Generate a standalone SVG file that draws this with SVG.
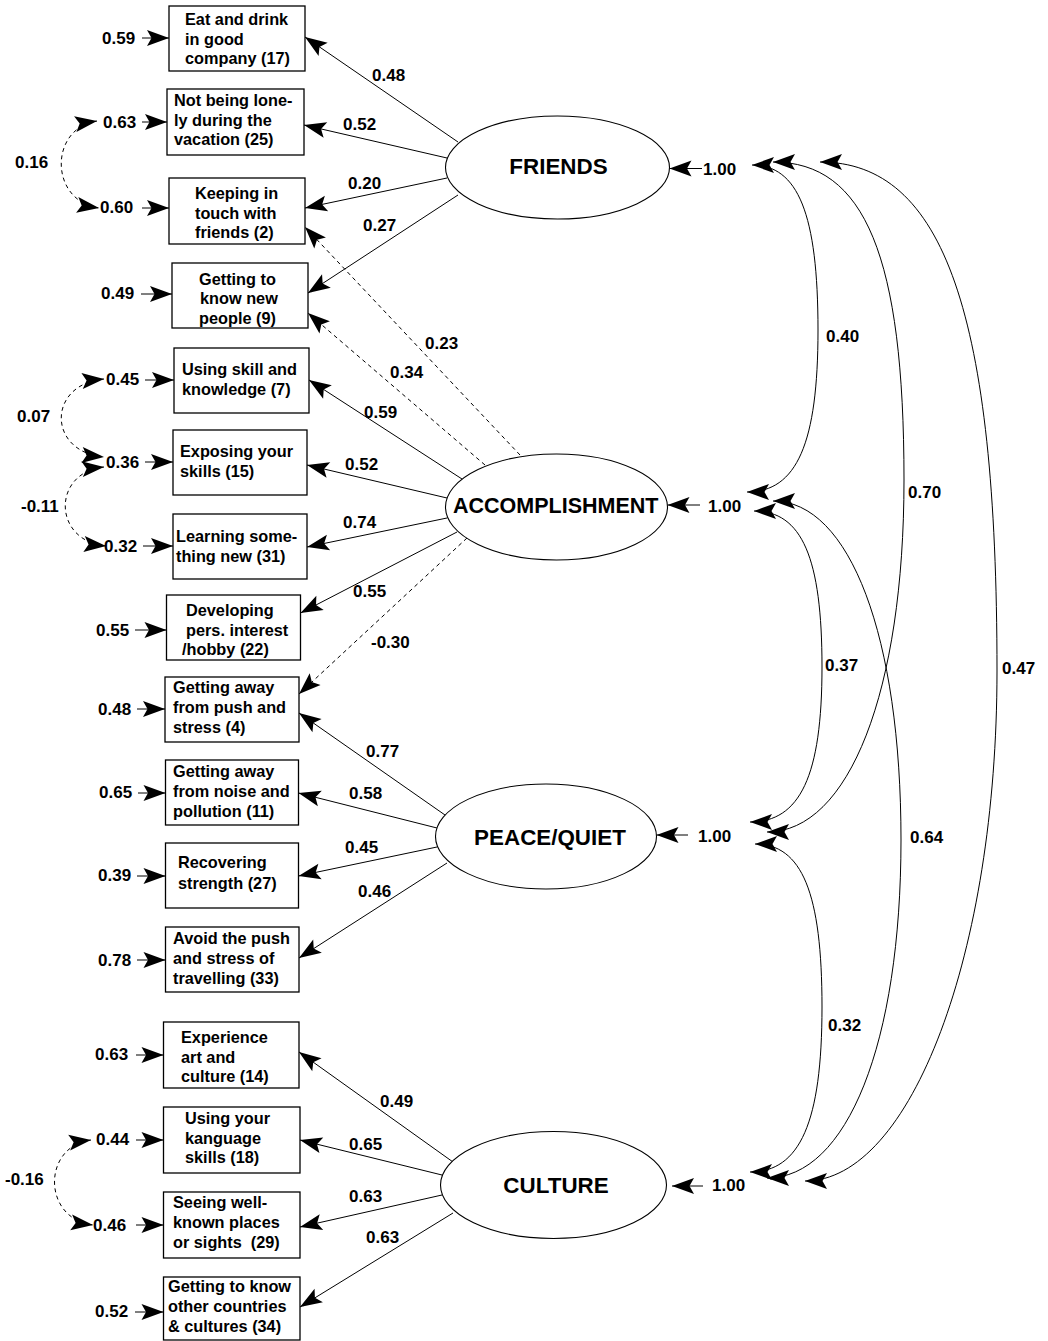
<svg xmlns="http://www.w3.org/2000/svg" width="1048" height="1341" viewBox="0 0 1048 1341">
<defs>
<marker id="ah" viewBox="-23 -9 24 18" refX="0" refY="0" markerWidth="24" markerHeight="18" markerUnits="userSpaceOnUse" orient="auto-start-reverse">
<path d="M0,0 L-22,-8 L-17.5,0 L-22,8 Z" fill="#000" stroke="none"/>
</marker>
</defs>
<style>
.box{fill:#fff;stroke:#000;stroke-width:1.3}
.lat{fill:#fff;stroke:#000;stroke-width:1.1}
.ln{fill:none;stroke:#000;stroke-width:1;marker-end:url(#ah)}
.dl{fill:none;stroke:#000;stroke-width:1;stroke-dasharray:4 3.5;marker-end:url(#ah)}
.cov{fill:none;stroke:#000;stroke-width:1;marker-start:url(#ah);marker-end:url(#ah)}
.dcov{fill:none;stroke:#000;stroke-width:1;stroke-dasharray:4 3.5;marker-start:url(#ah);marker-end:url(#ah)}
text{font-family:"Liberation Sans",Arial,sans-serif;font-weight:bold;fill:#000}
.t{font-size:16.3px}
.n{font-size:17px}
.L{font-size:22.4px;text-anchor:middle}
</style>
<rect width="1048" height="1341" fill="#fff"/>

<g id="connectors">
<!-- FRIENDS loadings -->
<path class="ln" d="M458,142 L305,37"/>
<path class="ln" d="M447,158 L304,125"/>
<path class="ln" d="M447,178 L305,208"/>
<path class="ln" d="M458,195 L308,293"/>
<!-- cross loadings (dashed) -->
<path class="dl" d="M520,455 L305,227"/>
<path class="dl" d="M485,465 L308,313"/>
<path class="dl" d="M467,538 L299,694"/>
<!-- ACCOMPLISHMENT loadings -->
<path class="ln" d="M462,479 L309,380"/>
<path class="ln" d="M447,498 L307,465"/>
<path class="ln" d="M447,518 L307,547"/>
<path class="ln" d="M457,532 L300.5,613"/>
<!-- PEACE/QUIET loadings -->
<path class="ln" d="M445,815 L299,713"/>
<path class="ln" d="M437,828 L298.5,793"/>
<path class="ln" d="M437,847 L298.5,876"/>
<path class="ln" d="M447,863 L299,958"/>
<!-- CULTURE loadings -->
<path class="ln" d="M453,1162 L299,1052"/>
<path class="ln" d="M442,1175 L300,1140"/>
<path class="ln" d="M442,1195 L300,1227"/>
<path class="ln" d="M453,1213 L300,1307"/>
<!-- residual arrows -->
<path class="ln" d="M142,38 L169,38"/>
<path class="ln" d="M142,122 L167,122"/>
<path class="ln" d="M142,208 L169,208"/>
<path class="ln" d="M141,294 L172,294"/>
<path class="ln" d="M145,380 L174,380"/>
<path class="ln" d="M145,462 L173,462"/>
<path class="ln" d="M143,546 L173,546"/>
<path class="ln" d="M135,630 L166.5,630"/>
<path class="ln" d="M137,709 L165,709"/>
<path class="ln" d="M138,793 L165.5,793"/>
<path class="ln" d="M137,876 L165.5,876"/>
<path class="ln" d="M137,960 L165.5,960"/>
<path class="ln" d="M136,1055 L163.5,1055"/>
<path class="ln" d="M136,1140 L163.5,1140"/>
<path class="ln" d="M136,1225 L163.5,1225"/>
<path class="ln" d="M135,1312 L163.5,1312"/>
<!-- residual covariances (dashed) -->
<path class="dcov" d="M97,121 C49,128 49,201 99,208"/>
<path class="dcov" d="M104,379 C47,384 47,452 104,457"/>
<path class="dcov" d="M104,467 C52,472 52,541 106,546"/>
<path class="dcov" d="M91,1140 C42,1146 42,1219 93,1225"/>
<!-- factor variances -->
<path class="ln" d="M702,168.5 L669.5,168.5"/>
<path class="ln" d="M700,505 L667.5,505"/>
<path class="ln" d="M688,835 L656.5,835"/>
<path class="ln" d="M703,1186 L672,1186"/>
<!-- factor covariances -->
<path class="cov" d="M752,165 C798,165 818,214 818,330 C818,443 797,492 747,492"/>
<path class="cov" d="M773,162 C865,162 904,257 904,480 C904,691 849,832 767,832"/>
<path class="cov" d="M820,162 C944,162 997,315 997,671 C997,952 911,1181 805,1181"/>
<path class="cov" d="M754,511 C802,511 822,558 822,667 C822,776 800,822 750,822"/>
<path class="cov" d="M773,501 C850,501 901,637 901,840 C901,1043 847,1178 767,1178"/>
<path class="cov" d="M755,844 C802,844 822,893 822,1007 C822,1122 800,1172 750,1172"/>
</g>

<g id="edge-labels" class="n">
<text class="n" x="372" y="81">0.48</text>
<text class="n" x="343" y="130">0.52</text>
<text class="n" x="348" y="189">0.20</text>
<text class="n" x="363" y="231">0.27</text>
<text class="n" x="425" y="349">0.23</text>
<text class="n" x="390" y="378">0.34</text>
<text class="n" x="364" y="418">0.59</text>
<text class="n" x="345" y="470">0.52</text>
<text class="n" x="343" y="528">0.74</text>
<text class="n" x="353" y="597">0.55</text>
<text class="n" x="371" y="648">-0.30</text>
<text class="n" x="366" y="757">0.77</text>
<text class="n" x="349" y="799">0.58</text>
<text class="n" x="345" y="853">0.45</text>
<text class="n" x="358" y="897">0.46</text>
<text class="n" x="380" y="1107">0.49</text>
<text class="n" x="349" y="1150">0.65</text>
<text class="n" x="349" y="1202">0.63</text>
<text class="n" x="366" y="1243">0.63</text>
<text class="n" x="102" y="44">0.59</text>
<text class="n" x="103" y="128">0.63</text>
<text class="n" x="100" y="213">0.60</text>
<text class="n" x="101" y="299">0.49</text>
<text class="n" x="15" y="168">0.16</text>
<text class="n" x="106" y="385">0.45</text>
<text class="n" x="106" y="468">0.36</text>
<text class="n" x="104" y="552">0.32</text>
<text class="n" x="96" y="636">0.55</text>
<text class="n" x="17" y="422">0.07</text>
<text class="n" x="21" y="512">-0.11</text>
<text class="n" x="98" y="715">0.48</text>
<text class="n" x="99" y="798">0.65</text>
<text class="n" x="98" y="881">0.39</text>
<text class="n" x="98" y="966">0.78</text>
<text class="n" x="95" y="1060">0.63</text>
<text class="n" x="96" y="1145">0.44</text>
<text class="n" x="93" y="1231">0.46</text>
<text class="n" x="95" y="1317">0.52</text>
<text class="n" x="5" y="1185">-0.16</text>
<text class="n" x="703" y="175">1.00</text>
<text class="n" x="708" y="512">1.00</text>
<text class="n" x="698" y="842">1.00</text>
<text class="n" x="712" y="1191">1.00</text>
<text class="n" x="826" y="342">0.40</text>
<text class="n" x="908" y="498">0.70</text>
<text class="n" x="825" y="671">0.37</text>
<text class="n" x="1002" y="674">0.47</text>
<text class="n" x="910" y="843">0.64</text>
<text class="n" x="828" y="1031">0.32</text>
</g>

<g id="friends">
<ellipse class="lat" cx="557.5" cy="167.5" rx="112" ry="51.5"/>
<text class="L" x="558.5" y="174">FRIENDS</text>
</g>
<g id="accomplishment">
<ellipse class="lat" cx="556.5" cy="507" rx="111" ry="53"/>
<text class="L" x="555.7" y="513" style="font-size:21.5px">ACCOMPLISHMENT</text>
</g>
<g id="peace-quiet">
<ellipse class="lat" cx="546" cy="836.5" rx="110.5" ry="52.5"/>
<text class="L" x="550" y="845">PEACE/QUIET</text>
</g>
<g id="culture">
<ellipse class="lat" cx="553.5" cy="1185" rx="113" ry="53.5"/>
<text class="L" x="556" y="1193">CULTURE</text>
</g>

<g id="item17">
<rect class="box" x="169" y="6" width="136" height="65"/>
<text class="t" x="185" y="25">Eat and drink</text>
<text class="t" x="185" y="44.5">in good</text>
<text class="t" x="185" y="64">company (17)</text>
</g>
<g id="item25">
<rect class="box" x="167" y="89" width="137" height="66"/>
<text class="t" x="174" y="106">Not being lone-</text>
<text class="t" x="174" y="125.5">ly during the</text>
<text class="t" x="174" y="145">vacation (25)</text>
</g>
<g id="item2">
<rect class="box" x="169" y="178" width="136" height="66"/>
<text class="t" x="195" y="199">Keeping in</text>
<text class="t" x="195" y="218.5">touch with</text>
<text class="t" x="195" y="238">friends (2)</text>
</g>
<g id="item9">
<rect class="box" x="172" y="263" width="136" height="65"/>
<text class="t" x="199" y="284.5">Getting to</text>
<text class="t" x="200" y="304">know new</text>
<text class="t" x="199" y="323.5">people (9)</text>
</g>
<g id="item7">
<rect class="box" x="174" y="348" width="135" height="65"/>
<text class="t" x="182" y="375">Using skill and</text>
<text class="t" x="182" y="395">knowledge (7)</text>
</g>
<g id="item15">
<rect class="box" x="173" y="430" width="134" height="65"/>
<text class="t" x="180" y="457">Exposing your</text>
<text class="t" x="180" y="477">skills (15)</text>
</g>
<g id="item31">
<rect class="box" x="173" y="514" width="134" height="65"/>
<text class="t" x="176" y="542">Learning some-</text>
<text class="t" x="176" y="562">thing new (31)</text>
</g>
<g id="item22">
<rect class="box" x="166.5" y="595" width="134" height="65"/>
<text class="t" x="186" y="616">Developing</text>
<text class="t" x="186" y="636">pers. interest</text>
<text class="t" x="182" y="655">/hobby (22)</text>
</g>
<g id="item4">
<rect class="box" x="165" y="677" width="134" height="65"/>
<text class="t" x="173" y="693">Getting away</text>
<text class="t" x="173" y="713">from push and</text>
<text class="t" x="173" y="733">stress (4)</text>
</g>
<g id="item11">
<rect class="box" x="165.5" y="760" width="133" height="65"/>
<text class="t" x="173" y="777">Getting away</text>
<text class="t" x="173" y="797">from noise and</text>
<text class="t" x="173" y="817">pollution (11)</text>
</g>
<g id="item27">
<rect class="box" x="165.5" y="843" width="133" height="65"/>
<text class="t" x="178" y="868">Recovering</text>
<text class="t" x="178" y="889">strength (27)</text>
</g>
<g id="item33">
<rect class="box" x="165.5" y="927" width="133.5" height="65"/>
<text class="t" x="173" y="944">Avoid the push</text>
<text class="t" x="173" y="964">and stress of</text>
<text class="t" x="173" y="984">travelling (33)</text>
</g>
<g id="item14">
<rect class="box" x="163.5" y="1022" width="135.5" height="66"/>
<text class="t" x="181" y="1043">Experience</text>
<text class="t" x="181" y="1063">art and</text>
<text class="t" x="181" y="1082">culture (14)</text>
</g>
<g id="item18">
<rect class="box" x="163.5" y="1107" width="136.5" height="66"/>
<text class="t" x="185" y="1124">Using your</text>
<text class="t" x="185" y="1144">kanguage</text>
<text class="t" x="185" y="1163">skills (18)</text>
</g>
<g id="item29">
<rect class="box" x="163.5" y="1192" width="136.5" height="66"/>
<text class="t" x="173" y="1208">Seeing well-</text>
<text class="t" x="173" y="1228">known places</text>
<text class="t" x="173" y="1248">or sights&#160; (29)</text>
</g>
<g id="item34">
<rect class="box" x="163.5" y="1277" width="136.5" height="63"/>
<text class="t" x="168" y="1292">Getting to know</text>
<text class="t" x="168" y="1312">other countries</text>
<text class="t" x="168" y="1332">&amp; cultures (34)</text>
</g>
</svg>
